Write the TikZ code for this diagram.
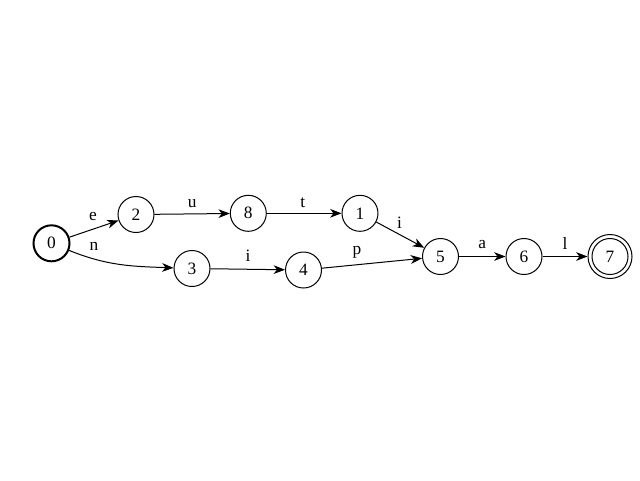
\documentclass[tikz,border=0pt]{standalone}
\usepackage{fontspec}
\setmainfont{Liberation Serif}
\usetikzlibrary{arrows.meta}
\begin{document}
\begin{tikzpicture}[x=0.75pt,y=-0.75pt,
  state/.style={circle,draw,line width=0.75pt,minimum size=27pt,inner sep=0pt,font=\fontsize{13pt}{15pt}\selectfont},
  startstate/.style={state,line width=1.5pt},
  edge/.style={draw,line width=0.75pt,-{Stealth[length=8.5pt,width=6.5pt,inset=2.5pt]}},
  lbl/.style={font=\fontsize{13pt}{15pt}\selectfont,inner sep=0pt}]
\useasboundingbox (0,0) rectangle (640,480);
\node[startstate] (s0) at (51.5,243.3) {0};
\node[state] (s2) at (136,214.5) {2};
\node[state] (s8) at (248.3,213.3) {8};
\node[state] (s1) at (360,213.3) {1};
\node[state] (s3) at (192,268.5) {3};
\node[state] (s4) at (303.5,270) {4};
\node[state] (s5) at (440.5,256.5) {5};
\node[state] (s6) at (524,256.5) {6};
\node[state,minimum size=33pt] (s7) at (610,256.5) {7};
\draw[line width=0.75pt] (s7.center) circle[radius=13.5pt];
\path[edge] (s0) -- (s2);
\path[edge] (s0) to[out=-22,in=178] (s3);
\path[edge] (s2) -- (s8);
\path[edge] (s8) -- (s1);
\path[edge] (s1) -- (s5);
\path[edge] (s3) -- (s4);
\path[edge] (s4) -- (s5);
\path[edge] (s5) -- (s6);
\path[edge] (s6) -- (s7);
\node[lbl] (le) at (93,216.5) {e};
\node[lbl] (ln) at (94,246.5) {n};
\node[lbl] (lu) at (192.3,203.5) {u};
\node[lbl] (lt) at (302.7,202.5) {t};
\node[lbl] (li1) at (248,255.5) {i};
\node[lbl] (li2) at (399.5,222.5) {i};
\node[lbl] (lp) at (357,252.5) {p};
\node[lbl] (la) at (482.3,245) {a};
\node[lbl] (ll) at (565,243.5) {l};
\end{tikzpicture}
\end{document}
